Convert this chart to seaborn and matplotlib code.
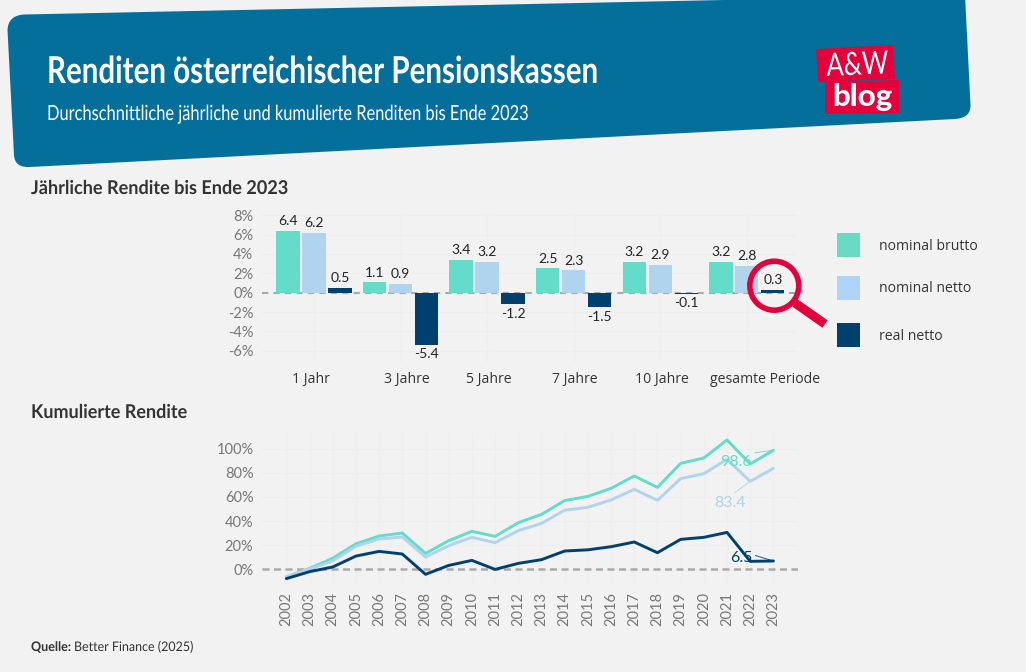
import pandas as pd
import matplotlib
matplotlib.use('Agg')
import matplotlib.pyplot as plt
import matplotlib.transforms as mtrans
from matplotlib.patches import PathPatch, Polygon, Circle, Rectangle
from matplotlib.patheffects import AbstractPathEffect
from matplotlib.path import Path
from matplotlib.lines import Line2D
import seaborn as sns

# Data, annual returns.
periods = ['1 Jahr', '3 Jahre', '5 Jahre', '7 Jahre', '10 Jahre', 'gesamte Periode']
series_names = ['nominal brutto', 'nominal netto', 'real netto']
brutto_annual = [6.4, 1.1, 3.4, 2.5, 3.2, 3.2]
netto_annual = [6.2, 0.9, 3.2, 2.3, 2.9, 2.8]
real_annual = [0.5, -5.4, -1.2, -1.5, -0.1, 0.3]

# Data, cumulative returns.
years = list(range(2002, 2024))
brutto_cum = [-6.4, 0.5, 9, 21, 27.5, 30, 13, 23.6, 31.4, 27.2, 38.6,
              45.5, 57, 60.5, 67.2, 77.5, 68, 88, 92.5, 107.5, 87.5, 98.9]
netto_cum = [-6.5, 0, 6.7, 19, 25, 26.7, 10, 19.4, 26.4, 22, 32,
             38, 49, 51.4, 57.5, 66.4, 57.2, 75.3, 79.4, 91.4, 73, 83.9]
real_cum = [-8, -2.2, 1.7, 10.8, 14.7, 12.5, -4.4, 3, 7.2, -0.3, 4.7,
            7.8, 15, 16, 18.6, 22.5, 13.6, 24.7, 26.4, 30.5, 6.4, 6.7]

W, H = 1026, 672
BG = '#F2F2F2'
BLUE = '#056F9C'
RED = '#E4003A'
GRID = '#EEEEEE'
palette = ['#63DCC9', '#B0D4EE', '#00406E']
legend_colors = ['#6ADAC4', '#B0D4F8', '#00406E']
TICK_FONT = 'Lato'

sns.set_theme(style='white', rc={'figure.facecolor': BG, 'axes.facecolor': 'none',
                                 'savefig.facecolor': BG})
plt.rcParams['font.family'] = ['Open Sans', 'DejaVu Sans']

fig = plt.figure(figsize=(W / 100, H / 100), dpi=100)


class Narrow(AbstractPathEffect):
    # squeeze a text sideways, no narrow font is installed
    def __init__(self, sx, x0):
        super().__init__()
        self.sx = sx
        self.x0 = x0

    def draw_path(self, renderer, gc, tpath, affine, rgbFace=None):
        squeeze = mtrans.Affine2D().translate(-self.x0, 0).scale(self.sx, 1).translate(self.x0, 0)
        renderer.draw_path(gc, tpath, affine + squeeze, rgbFace)


def axes_px(left, top, right, bottom):
    # axes from pixel edges, y counted from the top
    return fig.add_axes([left / W, 1 - bottom / H, (right - left) / W, (bottom - top) / H])


def style_axes(ax):
    sns.despine(ax=ax, left=True, bottom=True)
    ax.grid(True, color=GRID, lw=0.8, zorder=0)
    ax.set_axisbelow(True)
    ax.set_xlabel('')
    ax.set_ylabel('')


# Bar chart.
ax1 = axes_px(262, 213, 797, 361.7)
annual = pd.DataFrame({
    'period': periods * 3,
    'series': [s for s in series_names for _ in periods],
    'value': brutto_annual + netto_annual + real_annual,
})
sns.barplot(data=annual, x='period', y='value', hue='series', order=periods,
            hue_order=series_names, palette=palette, width=0.9, gap=0.1,
            saturation=1, legend=False, linewidth=0, ax=ax1)
style_axes(ax1)
ax1.set_xlim(-0.6, 5.58)
ax1.set_ylim(-7.14, 8.24)
ax1.set_yticks([-6, -4, -2, 0, 2, 4, 6, 8])
ax1.set_yticklabels(['-6%', '-4%', '-2%', '0%', '2%', '4%', '6%', '8%'],
                    family=TICK_FONT, fontsize=10.5, color='#777777')
ax1.tick_params(axis='y', length=0, pad=6.2)
ax1.tick_params(axis='x', length=0, pad=7.7, labelsize=10.1, labelcolor='#333333')
ax1.axhline(0, color='#AAAAAA', lw=1.5, ls=(0, (3, 2.5)), zorder=0.9)
for cont in ax1.containers:
    ax1.bar_label(cont, fmt='%.1f', padding=2.5, family=TICK_FONT, fontsize=10, color='#222222')

# x labels sit a little off the group centres in the original
label_shift = [-3, 6.5, 2, 1.5, 1.4, 18]
for lab, dx in zip(ax1.get_xticklabels(), label_shift):
    lab.set_transform(lab.get_transform() + mtrans.Affine2D().translate(dx, 0))

# Line chart.
ax2 = axes_px(262, 433, 798, 585)
cumulative = pd.DataFrame({
    'year': years * 3,
    'series': [s for s in series_names for _ in years],
    'value': brutto_cum + netto_cum + real_cum,
})
sns.lineplot(data=cumulative, x='year', y='value', hue='series', hue_order=series_names,
             palette=palette, lw=2.1, legend=False, ax=ax2)
style_axes(ax2)
ax2.set_xlim(2000.95, 2024.06)
ax2.set_ylim(-13.3, 113.3)
ax2.set_xticks(years)
ax2.set_xticklabels(years, rotation=90, family=TICK_FONT, fontsize=10.5, color='#777777')
ax2.set_yticks([0, 20, 40, 60, 80, 100])
ax2.set_yticklabels(['0%', '20%', '40%', '60%', '80%', '100%'],
                    family=TICK_FONT, fontsize=10.5, color='#777777')
ax2.tick_params(axis='y', length=0, pad=6.2)
ax2.tick_params(axis='x', length=0, pad=5)
ax2.axhline(0, color='#AAAAAA', lw=1.8, ls=(0, (2.8, 1.8)), zorder=1)

ax2.annotate('98.6', xy=(2023, brutto_cum[-1]), xytext=(2021.38, 89.4), ha='center', va='center',
             family=TICK_FONT, fontsize=11.5, color='#63DCC9',
             arrowprops=dict(arrowstyle='-', color='#63DCC9', lw=0.6, shrinkA=0, shrinkB=0, relpos=(0.7, 1)))
ax2.annotate('83.4', xy=(2022, netto_cum[-2]), xytext=(2021.13, 55), ha='center', va='center',
             family=TICK_FONT, fontsize=11.5, color='#B0D4EE',
             arrowprops=dict(arrowstyle='-', color='#B0D4EE', lw=0.6, shrinkA=0, shrinkB=0, relpos=(0.5, 1)))
ax2.annotate('6.5', xy=(2023, real_cum[-1]), xytext=(2021.6, 9.2), ha='center', va='center',
             family=TICK_FONT, fontsize=11.5, color='#00406E',
             arrowprops=dict(arrowstyle='-', color='#00406E', lw=0.6, shrinkA=0, shrinkB=0, relpos=(0.9, 0.8)))

# Overlay in pixel coordinates for banner, logo, legend, magnifier.
ov = fig.add_axes([0, 0, 1, 1], zorder=10)
ov.set_xlim(0, W)
ov.set_ylim(H, 0)
ov.axis('off')

verts = [(24, 14.5), (8, 15.5), (7.5, 30), (14, 155), (14.7, 168), (30, 167),
         (955, 119), (971, 118), (970.5, 105), (965, -5), (965, -5), (24, 14.5)]
codes = [Path.MOVETO, Path.CURVE3, Path.CURVE3, Path.LINETO, Path.CURVE3, Path.CURVE3,
         Path.LINETO, Path.CURVE3, Path.CURVE3, Path.LINETO, Path.LINETO, Path.CLOSEPOLY]
ov.add_patch(PathPatch(Path(verts, codes), fc=BLUE, ec='none'))

ov.text(47, 83, 'Renditen österreichischer Pensionskassen', family='Lato', weight='bold',
        fontsize=26.7, color='white', va='baseline', path_effects=[Narrow(0.796, 47)])
ov.text(47, 120, 'Durchschnittliche jährliche und kumulierte Renditen bis Ende 2023', family='Lato',
        fontsize=15, color='white', va='baseline', path_effects=[Narrow(0.788, 47)])

# Logo.
ov.add_patch(Polygon([(816, 49), (893, 45), (895, 79), (818, 82)], fc=RED, ec='none'))
ov.add_patch(Polygon([(825, 82), (899, 80), (899, 113), (825, 113.7)], fc=RED, ec='none'))
ov.text(826, 76, 'A&W', family='Lato', fontsize=23, color='white',
        va='baseline', rotation=2, path_effects=[Narrow(0.8, 826)])
ov.text(832, 106, 'blog', family='Lato', weight='black', fontsize=22.5, color='white',
        va='baseline')

# Section headings and source.
ov.text(31, 194, 'Jährliche Rendite bis Ende 2023', family='Lato', weight='bold',
        fontsize=13.7, color='#333333', va='baseline', path_effects=[Narrow(0.951, 31)])
ov.text(31, 418, 'Kumulierte Rendite', family='Lato', weight='bold',
        fontsize=13.7, color='#333333', va='baseline', path_effects=[Narrow(0.946, 31)])
ov.text(31, 651, 'Quelle:', family='Lato', weight='bold', fontsize=9.5,
        color='#333333', va='baseline', path_effects=[Narrow(0.95, 31)])
ov.text(74, 651, 'Better Finance (2025)', family='Lato', fontsize=9.5,
        color='#333333', va='baseline', path_effects=[Narrow(0.945, 74)])

# Legend.
for name, col, top, text_y in zip(series_names, legend_colors, [233, 276, 323], [246.5, 288.5, 336.5]):
    ov.add_patch(Rectangle((837, top), 23, 24, fc=col, ec='none'))
    ov.text(879, text_y, name, fontsize=10.1, color='#333333', va='center')

# Magnifier.
ov.add_patch(Circle((774.3, 285.7), 24.5, fc='none', ec=RED, lw=4))
ov.add_line(Line2D([795, 825], [303, 324], color=RED, lw=6.5, solid_capstyle='butt'))

fig.savefig('out.png', dpi=100)
